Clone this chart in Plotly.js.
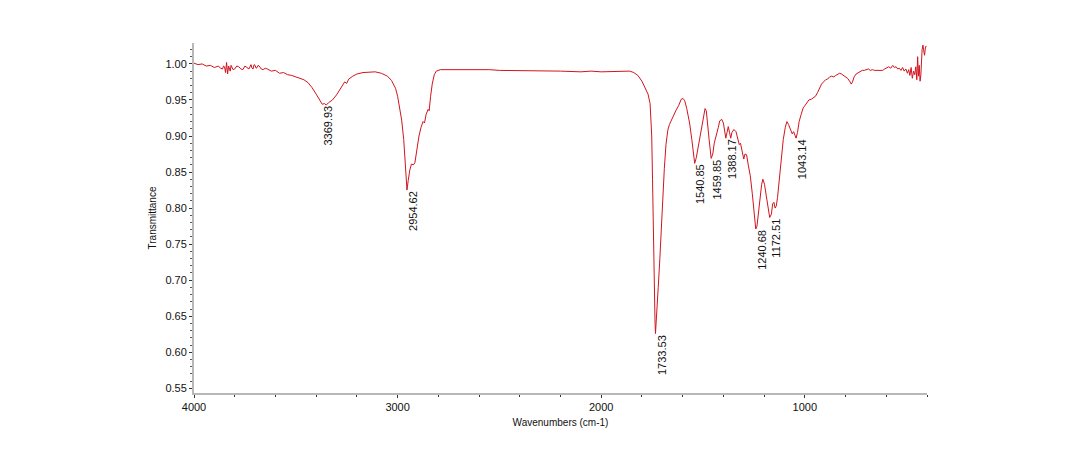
<!DOCTYPE html>
<html>
<head>
<meta charset="utf-8">
<script src="https://cdn.plot.ly/plotly-3.0.1.min.js"></script>
<style>html,body{margin:0;padding:0;background:#fff;}#chart{width:1081px;height:468px;}</style>
</head>
<body>
<div id="chart"></div>
<script>
const wavenumbers = [4000,3980,3960,3940,3920,3900,3880,3870,3860,3855,3850,3845,3840,3835,3830,3826,3822,3818,3815,3808,3800,3790,3780,3770,3760,3750,3740,3730,3720,3715,3710,3705,3700,3695,3690,3685,3680,3670,3660,3650,3640,3630,3620,3600,3580,3560,3540,3520,3500,3480,3460,3440,3420,3400,3380,3370,3360,3350,3340,3320,3300,3280,3260,3250,3240,3220,3200,3170,3140,3110,3080,3050,3030,3010,3000,2990,2980,2970,2960,2954,2948,2940,2932,2922,2915,2905,2895,2885,2875,2868,2860,2850,2845,2838,2830,2820,2810,2790,2750,2700,2650,2600,2550,2500,2400,2300,2200,2100,2050,2000,1950,1900,1860,1840,1820,1800,1785,1770,1760,1752,1748,1744,1740,1736,1733.5,1731,1726,1720,1712,1705,1698,1690,1682,1673,1665,1656,1645,1632,1620,1607,1598,1590,1580,1566,1555,1548,1541,1533,1522,1510,1500,1490,1484,1478,1470,1460,1452,1445,1435,1425,1418,1408,1400,1394,1388,1382,1376,1370,1364,1358,1348,1338,1330,1322,1316,1308,1300,1294,1286,1278,1268,1258,1250,1241,1235,1228,1220,1212,1206,1198,1190,1182,1175,1172.5,1170,1164,1158,1152,1146,1140,1134,1126,1116,1106,1096,1088,1080,1070,1062,1055,1048,1043,1036,1028,1018,1008,1000,990,980,968,958,948,938,928,918,908,898,888,878,868,858,848,838,830,820,810,800,790,780,772,766,758,748,738,728,718,708,698,688,678,668,658,648,638,628,618,608,598,588,578,568,560,552,544,536,528,520,512,504,496,490,484,478,472,466,460,455,450,446,442,438,434,430,424,420,416,412,408,404];
const transmittance = [1.001,0.999,1.000,0.997,0.998,0.995,0.997,0.994,0.993,0.997,0.996,0.988,1.002,0.986,0.997,0.991,0.990,0.998,0.996,0.992,0.993,0.997,0.996,0.993,0.992,0.997,0.995,0.993,0.999,0.994,0.993,0.999,0.998,0.994,0.995,0.998,0.997,0.993,0.992,0.994,0.993,0.991,0.990,0.991,0.987,0.988,0.985,0.984,0.982,0.981,0.978,0.974,0.967,0.958,0.948,0.944,0.945,0.943,0.946,0.950,0.957,0.966,0.975,0.973,0.979,0.983,0.986,0.988,0.989,0.989,0.987,0.983,0.977,0.966,0.955,0.940,0.922,0.895,0.855,0.825,0.838,0.853,0.861,0.860,0.863,0.885,0.900,0.912,0.920,0.918,0.930,0.937,0.935,0.955,0.972,0.985,0.990,0.992,0.992,0.993,0.993,0.992,0.992,0.991,0.991,0.990,0.990,0.989,0.990,0.989,0.989,0.990,0.990,0.988,0.984,0.976,0.968,0.958,0.945,0.900,0.840,0.750,0.690,0.645,0.626,0.642,0.665,0.690,0.730,0.775,0.815,0.855,0.888,0.908,0.916,0.922,0.928,0.936,0.942,0.951,0.952,0.949,0.938,0.918,0.895,0.876,0.862,0.870,0.888,0.905,0.925,0.938,0.935,0.915,0.895,0.869,0.875,0.890,0.900,0.912,0.921,0.923,0.918,0.905,0.897,0.905,0.913,0.905,0.897,0.905,0.909,0.906,0.897,0.888,0.890,0.878,0.868,0.875,0.874,0.860,0.845,0.820,0.795,0.771,0.775,0.795,0.815,0.833,0.840,0.833,0.818,0.803,0.792,0.787,0.788,0.792,0.806,0.808,0.800,0.803,0.815,0.840,0.868,0.895,0.912,0.920,0.916,0.908,0.903,0.906,0.901,0.897,0.905,0.920,0.930,0.939,0.942,0.946,0.950,0.951,0.953,0.955,0.960,0.966,0.972,0.975,0.978,0.979,0.982,0.983,0.982,0.984,0.986,0.987,0.986,0.984,0.982,0.980,0.976,0.972,0.975,0.982,0.986,0.988,0.990,0.991,0.991,0.992,0.993,0.991,0.992,0.991,0.991,0.990,0.990,0.991,0.993,0.995,0.996,0.994,0.998,0.995,0.996,0.993,0.994,0.991,0.995,0.990,0.993,0.987,0.992,0.984,0.995,0.980,0.990,0.985,0.996,0.978,1.010,0.983,0.998,0.976,0.985,1.020,1.026,1.018,1.012,1.022,1.025];
const peakLabels = [3369.93, 2954.62, 1733.53, 1540.85, 1459.85, 1388.17, 1240.68, 1172.51, 1043.14];
const xTickLabels = ["4000", "3000", "2000", "1000"];
const xTickValues = [4000, 3000, 2000, 1000];

function nearestT(wn) {
  let best = 0, bd = Infinity;
  for (let i = 0; i < wavenumbers.length; i++) {
    const d = Math.abs(wavenumbers[i] - wn);
    if (d < bd) { bd = d; best = i; }
  }
  return transmittance[best];
}

const font = {family: 'Liberation Sans, Arial, sans-serif', size: 11, color: '#111'};

const annotations = peakLabels.map(p => ({
  x: p, y: nearestT(p), xref: 'x', yref: 'y',
  text: p.toFixed(2), showarrow: false, textangle: -90,
  xanchor: 'center', yanchor: 'top', xshift: 6, yshift: 0,
  borderpad: 0, font: font
}));

const trace = {
  x: wavenumbers, y: transmittance, type: 'scatter', mode: 'lines',
  line: {color: 'rgb(210,20,30)', width: 1}, hoverinfo: 'skip'
};

const layout = {
  width: 1081, height: 468,
  margin: {l: 194, r: 154, t: 43, b: 75, pad: 0},
  paper_bgcolor: '#fff', plot_bgcolor: '#fff',
  showlegend: false,
  font: font,
  xaxis: {
    range: [4000, 400], tickvals: xTickValues, ticktext: xTickLabels,
    showgrid: false, zeroline: false, showline: true, linecolor: '#b8b8b8', linewidth: 2,
    ticks: 'outside', ticklen: 3, tickcolor: '#333', tickwidth: 1,
    minor: {dtick: 200, tick0: 0, ticks: 'outside', ticklen: 2, tickcolor: '#333', showgrid: false},
    tickfont: font,
    title: {text: 'Wavenumbers (cm-1)', font: {family: font.family, size: 10, color: '#111'}, standoff: 7}
  },
  yaxis: {
    range: [0.5435, 1.029], dtick: 0.05, tick0: 0.55, tickformat: '.2f',
    showgrid: false, zeroline: false, showline: true, linecolor: '#b8b8b8', linewidth: 2,
    ticks: 'outside', ticklen: 3, tickcolor: '#333', tickwidth: 1,
    minor: {dtick: 0.01, ticks: 'outside', ticklen: 2, tickcolor: '#555', showgrid: false},
    tickfont: font,
    title: {text: 'Transmittance', font: {family: font.family, size: 10, color: '#111'}, standoff: 7}
  },
  annotations: annotations
};

Plotly.newPlot('chart', [trace], layout, {displayModeBar: false, staticPlot: true});
</script>
</body>
</html>
